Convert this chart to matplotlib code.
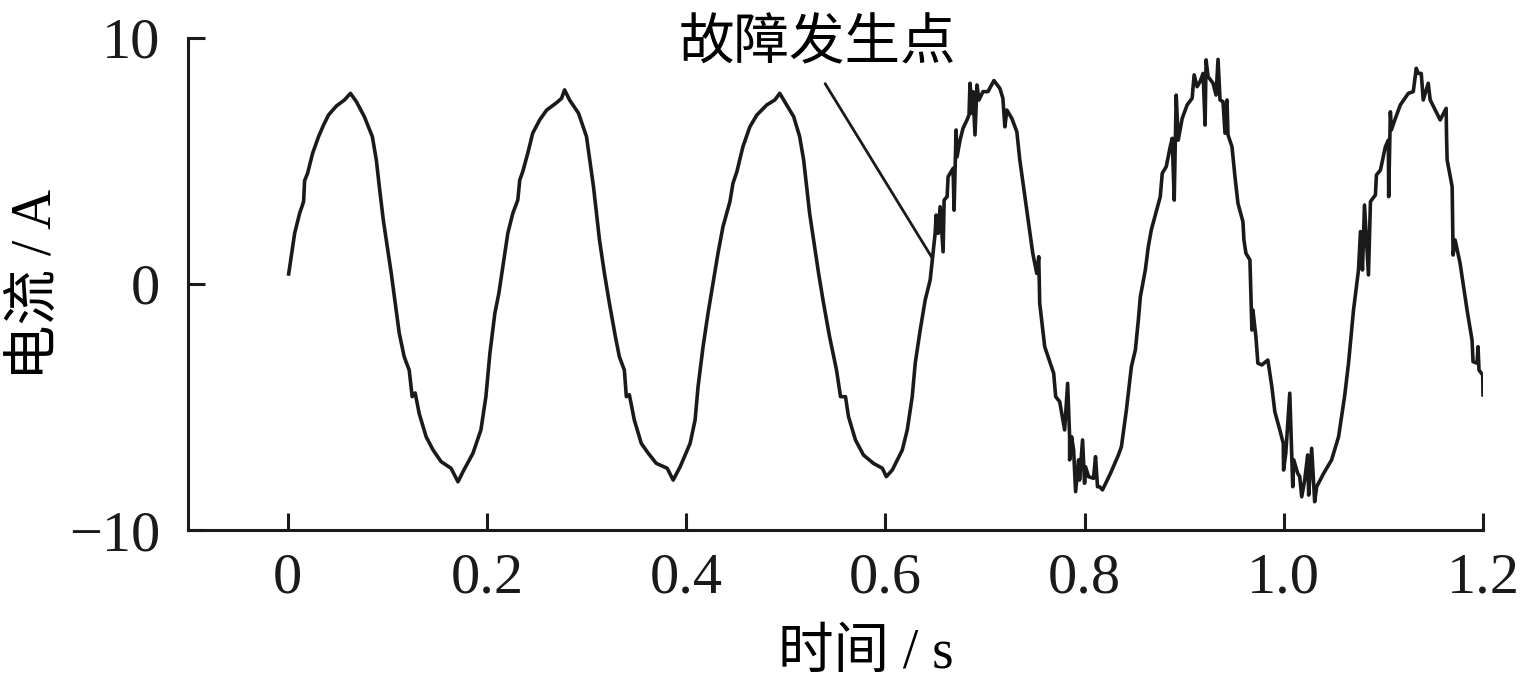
import matplotlib
matplotlib.use("Agg")
import matplotlib.pyplot as plt

plt.rcParams['font.family'] = ['Liberation Serif', 'Noto Sans CJK SC']
plt.rcParams['axes.unicode_minus'] = True

# current waveform (time in s, current in A)
t_normal = [0.001, 0.007, 0.012, 0.016, 0.017, 0.020, 0.025, 0.031, 0.036, 0.041,
            0.049, 0.057, 0.063, 0.069, 0.077, 0.085, 0.089, 0.092, 0.096, 0.100,
            0.104, 0.108, 0.112, 0.117, 0.122, 0.125, 0.128, 0.132, 0.139, 0.146,
            0.154, 0.164, 0.171, 0.176, 0.186, 0.194, 0.199, 0.203, 0.208, 0.212,
            0.216, 0.221, 0.226, 0.231, 0.233, 0.236, 0.241, 0.246, 0.253, 0.260,
            0.270, 0.275, 0.278, 0.283, 0.292, 0.300, 0.307, 0.313, 0.318, 0.323,
            0.329, 0.333, 0.338, 0.340, 0.343, 0.348, 0.355, 0.362, 0.370, 0.381,
            0.387, 0.394, 0.404, 0.409, 0.412, 0.417, 0.422, 0.427, 0.432, 0.437,
            0.444, 0.447, 0.451, 0.457, 0.464, 0.471, 0.481, 0.489, 0.494, 0.499,
            0.508, 0.514, 0.518, 0.521, 0.524, 0.528, 0.533, 0.538, 0.544, 0.551,
            0.555, 0.560, 0.563, 0.570, 0.578, 0.588, 0.597, 0.601, 0.607, 0.617,
            0.622, 0.627, 0.630, 0.635, 0.640, 0.645, 0.647]
i_normal = [0.41, 2.06, 2.87, 3.35, 4.20, 4.50, 5.31, 5.99, 6.46, 6.87,
            7.24, 7.48, 7.75, 7.41, 6.80, 5.99, 5.04, 3.96, 2.60, 1.52,
            0.43, -0.79, -2.00, -2.96, -3.50, -4.58, -4.43, -5.26, -6.21, -6.75,
            -7.22, -7.49, -8.04, -7.63, -6.88, -5.93, -4.58, -2.82, -1.19, -0.38,
            0.70, 2.06, 2.87, 3.41, 4.23, 4.57, 5.31, 6.13, 6.67, 7.07,
            7.37, 7.55, 7.89, 7.48, 6.94, 5.99, 3.96, 1.80, 0.43, -0.79,
            -2.14, -2.96, -3.50, -4.58, -4.50, -5.53, -6.48, -6.88, -7.29, -7.49,
            -7.97, -7.43, -6.48, -5.53, -4.17, -2.55, -1.19, 0.03, 1.25, 2.33,
            3.35, 4.09, 4.57, 5.58, 6.39, 6.87, 7.28, 7.48, 7.75, 7.41,
            6.80, 5.99, 5.04, 3.96, 2.87, 1.79, 0.43, -0.79, -2.14, -3.50,
            -4.58, -4.58, -5.39, -6.34, -6.95, -7.29, -7.49, -7.83, -7.56, -6.75,
            -5.93, -4.58, -3.22, -1.87, -0.65, 0.16, 0.91]

t_fault = [0.650, 0.651, 0.653, 0.655, 0.658, 0.659, 0.662, 0.663, 0.667, 0.668,
           0.669, 0.671, 0.672, 0.675, 0.678, 0.682, 0.684, 0.685, 0.687, 0.688,
           0.690, 0.692, 0.694, 0.698, 0.703, 0.709, 0.715, 0.718, 0.720, 0.722,
           0.727, 0.732, 0.735, 0.742, 0.748, 0.752, 0.754, 0.755, 0.760, 0.769,
           0.771, 0.775, 0.780, 0.783, 0.785, 0.785, 0.787, 0.789, 0.791, 0.794,
           0.795, 0.798, 0.800, 0.801, 0.804, 0.809, 0.811, 0.813, 0.815, 0.818,
           0.826, 0.834, 0.837, 0.842, 0.847, 0.851, 0.852, 0.854, 0.856, 0.861,
           0.864, 0.867, 0.876, 0.878, 0.882, 0.886, 0.888, 0.890, 0.892, 0.894,
           0.898, 0.903, 0.908, 0.910, 0.913, 0.916, 0.919, 0.921, 0.922, 0.924,
           0.929, 0.932, 0.934, 0.936, 0.939, 0.941, 0.943, 0.944, 0.948, 0.951,
           0.954, 0.959, 0.960, 0.962, 0.966, 0.968, 0.969, 0.972, 0.974, 0.978,
           0.984, 0.988, 0.991, 0.996, 0.9995, 0.9998, 1.002, 1.006, 1.009, 1.010,
           1.014, 1.016, 1.018, 1.021, 1.024, 1.025, 1.028, 1.031, 1.033, 1.040,
           1.048, 1.055, 1.061, 1.065, 1.070, 1.075, 1.077, 1.079, 1.081, 1.085,
           1.087, 1.092, 1.093, 1.097, 1.102, 1.105, 1.1053, 1.107, 1.108, 1.112,
           1.117, 1.125, 1.130, 1.133, 1.135, 1.138, 1.140, 1.145, 1.147, 1.157,
           1.163, 1.1634, 1.164, 1.169, 1.170, 1.172, 1.177, 1.184, 1.189, 1.190,
           1.194, 1.195, 1.196, 1.1997, 1.200]
i_fault = [2.06, 2.80, 2.06, 3.14, 1.31, 3.41, 3.55, 4.36, 4.63, 4.70,
           3.00, 6.26, 5.17, 5.85, 6.33, 6.67, 6.87, 8.16, 6.94, 7.82,
           6.06, 8.09, 7.48, 7.82, 7.82, 8.27, 7.95, 7.55, 6.39, 7.07,
           6.73, 6.19, 5.04, 3.01, 1.25, 0.43, 1.11, -0.79, -2.55, -3.63,
           -4.58, -4.78, -5.93, -4.04, -6.21, -7.15, -6.21, -6.75, -8.44, -7.15,
           -7.97, -6.34, -8.10, -7.43, -7.83, -7.90, -7.02, -8.24, -8.24, -8.37,
           -7.70, -6.95, -6.61, -5.12, -3.36, -2.68, -2.28, -1.46, -0.52, 0.57,
           1.52, 2.20, 3.55, 4.50, 4.77, 5.58, 5.92, 3.41, 7.68, 5.85,
           6.73, 7.28, 7.55, 8.50, 8.02, 8.23, 8.56, 6.46, 9.11, 8.43,
           8.16, 7.68, 9.13, 7.48, 7.41, 6.13, 7.48, 6.06, 5.58, 4.36,
           3.28, 2.53, 1.79, 1.25, 0.98, -1.87, -1.06, -2.14, -3.22, -3.29,
           -3.09, -4.17, -5.19, -5.93, -6.48, -7.56, -6.88, -4.44, -8.24, -7.15,
           -7.70, -7.83, -8.65, -7.97, -6.95, -8.58, -6.68, -8.85, -8.24, -7.70,
           -7.15, -6.21, -4.58, -3.22, -1.06, 0.57, 2.13, 0.57, 3.21, 0.37,
           3.35, 3.62, 4.43, 4.63, 5.58, 5.85, 3.55, 7.00, 6.26, 6.73,
           7.28, 7.75, 7.82, 8.77, 8.56, 8.56, 7.48, 8.16, 7.48, 6.67,
           7.14, 5.99, 5.04, 3.96, 1.18, 1.79, 0.84, -1.06, -2.28, -3.16,
           -3.22, -2.55, -3.50, -3.70, -4.51]

xticks = [0, 0.2, 0.4, 0.6, 0.8, 1.0, 1.2]
xtick_labels = ['0', '0.2', '0.4', '0.6', '0.8', '1.0', '1.2']
yticks = [-10, 0, 10]
ytick_labels = ['\u221210', '0', '10']

fig = plt.figure(figsize=(15.24, 6.92), dpi=100)
ax = fig.add_axes([0.1234, 0.2341, 0.8497, 0.7110])

ax.plot(t_normal + t_fault, i_normal + i_fault, color='#1a1a1a', lw=2.6)

ax.set_xlim(-0.1, 1.2)
ax.set_ylim(-10, 10)
ax.set_xticks(xticks)
ax.set_xticklabels(xtick_labels)
ax.set_yticks(yticks)
ax.set_yticklabels(ytick_labels)

for side in ['top', 'right']:
    ax.spines[side].set_visible(False)
for side in ['left', 'bottom']:
    ax.spines[side].set_linewidth(2.2)
    ax.spines[side].set_color('#1a1a1a')

ax.tick_params(direction='in', length=12, width=2.2, labelsize=42, colors='#1a1a1a')
ax.tick_params(axis='x', pad=16)
ax.tick_params(axis='y', pad=20)

ax.set_xlabel('时间 / s', fontsize=40)
ax.set_ylabel('电流 / A', fontsize=40)
ax.xaxis.set_label_coords(0.523, -0.2)
ax.yaxis.set_label_coords(-0.097, 0.5)

ax.annotate('故障发生点', xy=(0.647, 1.06), xytext=(0.532, 9.7),
            ha='center', va='center', fontsize=40, annotation_clip=False,
            arrowprops=dict(arrowstyle='-', color='#1a1a1a', lw=2.0,
                            relpos=(0.5, 0.0), shrinkA=8, shrinkB=0))

fig.savefig('out.png', dpi=100)
